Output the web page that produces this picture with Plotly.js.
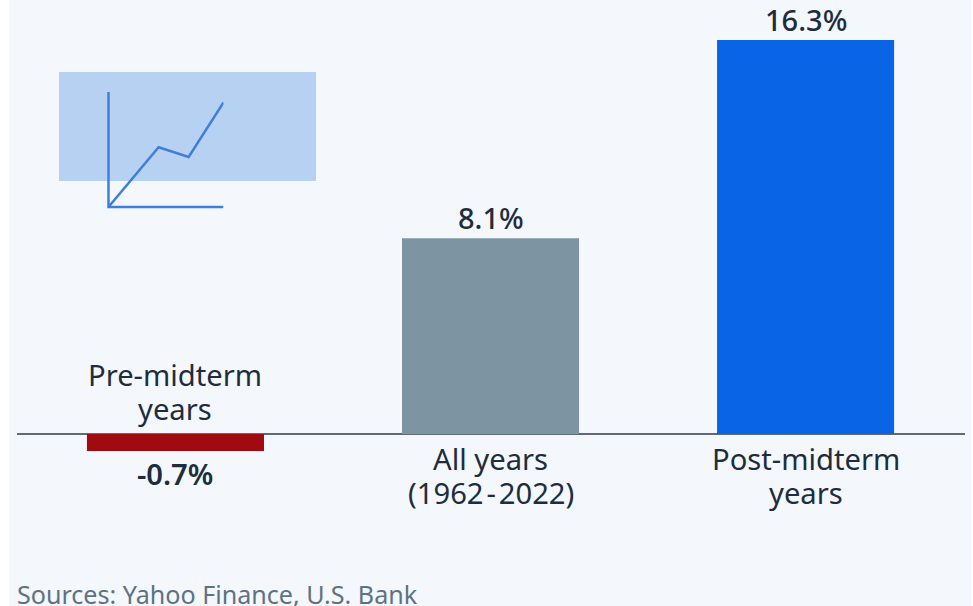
<!DOCTYPE html>
<html>
<head>
<meta charset="utf-8">
<script src="https://cdn.plot.ly/plotly-3.0.1.min.js"></script>
<style>html,body{margin:0;padding:0;background:#fff}</style>
</head>
<body>
<div id="chart" style="width:973px;height:606px"></div>
<script>
// Average return by point in the midterm election cycle
var categoryFirstLines = ['Pre-midterm', 'All years', 'Post-midterm'];
var categorySecondLines = ['years', '(1962\u200A-\u200A2022)', 'years'];
var returns = [-0.7, 8.1, 16.3];
var valueLabels = ['-0.7%', '8.1%', '16.3%'];
var barColors = ['#a00a10', '#7d94a3', '#0a64e6'];

// Small decorative line-chart icon, in its own 0-100 coordinates
var iconAxisX = [0, 0, 100];
var iconAxisY = [100, 0, 0];
var iconLineX = [0, 43.6, 69.7, 100];
var iconLineY = [0, 52, 43.5, 91];

var W = 973, H = 606;
var font = '"Noto Sans", "Open Sans", sans-serif';
var ink = '#1e2d3d';

var traces = [
  {
    type: 'bar', x: [0, 1, 2], y: returns, width: 0.562,
    marker: {color: barColors, line: {width: 0}},
    hoverinfo: 'skip'
  },
  {
    type: 'scatter', mode: 'lines', x: iconAxisX, y: iconAxisY, xaxis: 'x2', yaxis: 'y2',
    line: {color: '#3f7fdc', width: 2.5}, hoverinfo: 'skip'
  },
  {
    type: 'scatter', mode: 'lines', x: iconLineX, y: iconLineY, xaxis: 'x2', yaxis: 'y2',
    line: {color: '#3f7fdc', width: 2.5}, hoverinfo: 'skip'
  }
];

// Category captions sit above the axis for the negative bar, below it otherwise
function captionLine(text, i, shift) {
  return {
    x: i, y: 0, xref: 'x', yref: 'y', text: text, showarrow: false,
    yanchor: 'middle', yshift: shift,
    font: {family: font, size: 29.2, color: ink}
  };
}
var annotations = [];
returns.forEach(function (v, i) {
  annotations.push(captionLine(categoryFirstLines[i], i, v < 0 ? 59 : -25));
  annotations.push(captionLine(categorySecondLines[i], i, v < 0 ? 25 : -59));
  // Value label just past the end of each bar; the loss is set heavier
  annotations.push({
    x: i, y: v, xref: 'x', yref: 'y', text: valueLabels[i], showarrow: false,
    yanchor: 'middle', yshift: v < 0 ? -23 : 20.5,
    font: {family: font, size: v < 0 ? 29.2 : 29, color: ink, weight: v < 0 ? 600 : 500}
  });
});
annotations.push({
  xref: 'paper', yref: 'paper', x: 15 / W, y: 0, xanchor: 'left', yanchor: 'bottom', yshift: -7,
  text: 'Sources: Yahoo Finance, U.S. Bank', showarrow: false,
  font: {family: font, size: 25.1, color: '#5d7284'}
});

var layout = {
  width: W, height: H,
  margin: {l: 0, r: 0, t: 0, b: 0},
  paper_bgcolor: '#ffffff',
  plot_bgcolor: 'rgba(0,0,0,0)',
  showlegend: false,
  xaxis: {
    domain: [17 / W, 965 / W], range: [-0.503, 2.506],
    showgrid: false, zeroline: false, showticklabels: false, ticks: '', showline: false, fixedrange: true
  },
  yaxis: {
    domain: [0, 1], range: [-7.116, 17.956],
    showgrid: false, zeroline: true, zerolinecolor: '#5f6b75', zerolinewidth: 2,
    showticklabels: false, ticks: '', showline: false, fixedrange: true
  },
  xaxis2: {
    domain: [105.5 / W, 223.5 / W], range: [-2.6, 100], anchor: 'y2',
    visible: false, fixedrange: true
  },
  yaxis2: {
    domain: [1 - 210 / H, 1 - 92 / H], range: [-2.6, 100], anchor: 'x2',
    visible: false, fixedrange: true
  },
  shapes: [
    {type: 'rect', xref: 'paper', yref: 'paper', x0: 9 / W, x1: 971 / W, y0: 0, y1: 1,
     fillcolor: '#f4f7fb', line: {width: 0}, layer: 'below'},
    {type: 'rect', xref: 'paper', yref: 'paper', x0: 59 / W, x1: 316 / W, y0: 1 - 181 / H, y1: 1 - 72 / H,
     fillcolor: '#b7d1f3', line: {width: 0}, layer: 'below'}
  ],
  annotations: annotations
};

Plotly.newPlot('chart', traces, layout, {displayModeBar: false, staticPlot: true});
</script>
</body>
</html>
